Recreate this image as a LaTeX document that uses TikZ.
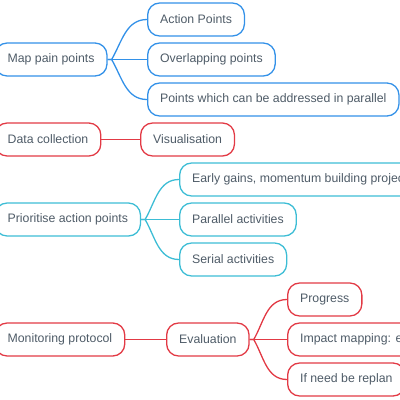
\documentclass[tikz,border=0pt]{standalone}
\usepackage{xcolor}
\usepackage{fontspec}
\setmainfont{Liberation Sans}
\usepackage{tikz}
\definecolor{slate}{HTML}{4E5B67}
\definecolor{mapblue}{HTML}{3391E8}
\definecolor{datared}{HTML}{E23A45}
\definecolor{prioteal}{HTML}{3DBDD5}

\begin{document}
\begin{tikzpicture}[x=1pt,y=1pt,
  topic/.style={draw=#1, rounded corners=12pt, line width=1.3pt,
      minimum height=33pt, inner xsep=12.5pt, inner ysep=0pt, anchor=west,
      text=slate, font=\fontsize{12.3}{14}\selectfont},
  branch/.style={draw=#1, line width=1.3pt}]
\useasboundingbox (0,0) rectangle (400,-400);
\clip (0,0) rectangle (400,-400);

% map pain points
\node[topic=mapblue] (map) at (-5.5,-59.5) {Map pain points};
\node[topic=mapblue] (act) at (147,-19.5) {Action Points};
\node[topic=mapblue] (over) at (147,-59.5) {Overlapping points};
\node[topic=mapblue] (para) at (147,-99.5) {Points which can be addressed in parallel};
\draw[branch=mapblue] (map.east) -- ++(4,0) to[out=60,in=180] (act.west);
\draw[branch=mapblue] (map.east) -- (over.west);
\draw[branch=mapblue] (map.east) -- ++(4,0) to[out=-60,in=180] (para.west);

% data collection
\node[topic=datared] (data) at (-5.5,-139.5) {Data collection};
\node[topic=datared] (vis) at (140,-139.5) {Visualisation};
\draw[branch=datared] (data.east) -- (vis.west);

% prioritise
\node[topic=prioteal] (prio) at (-5.5,-219.5) {Prioritise action points};
\node[topic=prioteal] (early) at (179,-179.5) {Early gains, momentum building projects};
\node[topic=prioteal] (parl) at (179,-219.5) {Parallel activities};
\node[topic=prioteal] (serial) at (179,-259.5) {Serial activities};
\draw[branch=prioteal] (prio.east) -- ++(4,0) to[out=60,in=180] (early.west);
\draw[branch=prioteal] (prio.east) -- (parl.west);
\draw[branch=prioteal] (prio.east) -- ++(4,0) to[out=-60,in=180] (serial.west);

% monitoring
\node[topic=datared] (mon) at (-5.5,-339.5) {Monitoring protocol};
\node[topic=datared] (eval) at (166,-339.5) {Evaluation};
\node[topic=datared] (prog) at (287,-299.5) {Progress};
\node[topic=datared] (impact) at (287,-339.5) {Impact mapping: e};
\node[topic=datared] (replan) at (287,-379.5) {If need be replan};
\draw[branch=datared] (mon.east) -- (eval.west);
\draw[branch=datared] (eval.east) -- ++(4,0) to[out=60,in=180] (prog.west);
\draw[branch=datared] (eval.east) -- (impact.west);
\draw[branch=datared] (eval.east) -- ++(4,0) to[out=-60,in=180] (replan.west);
\end{tikzpicture}
\end{document}
